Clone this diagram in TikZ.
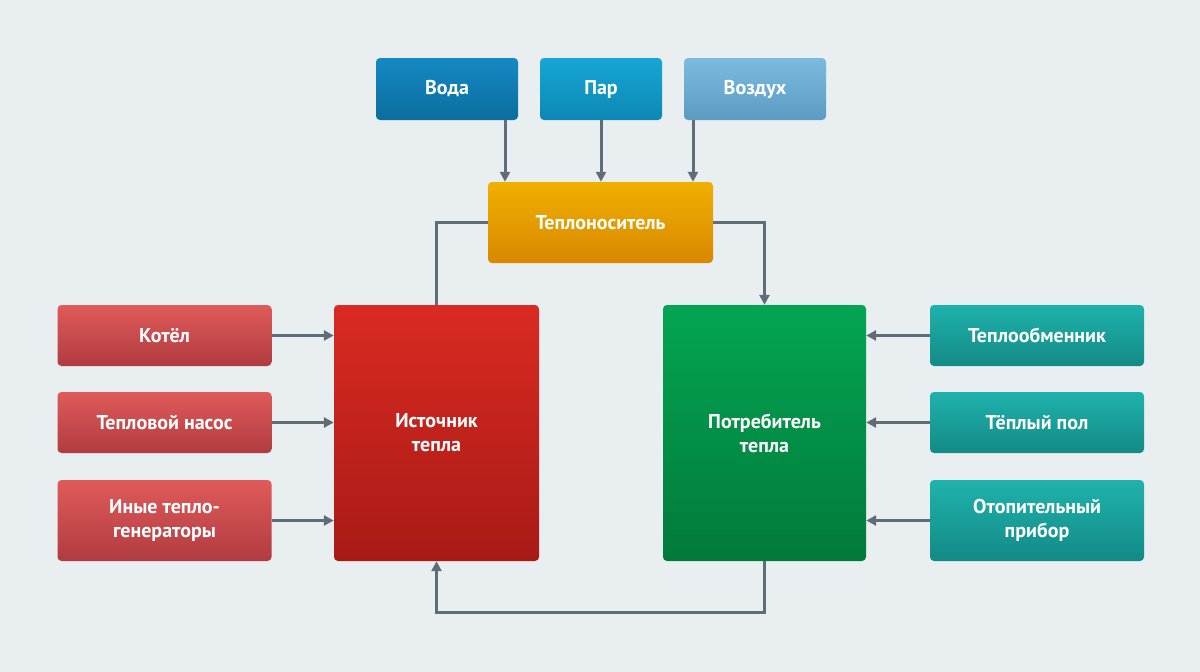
\documentclass[tikz,border=0pt]{standalone}
\usepackage{fontspec}
\setmainfont{PT Sans}
\usetikzlibrary{positioning,arrows.meta}
\definecolor{bg}{HTML}{E9EEF1}
\definecolor{line}{HTML}{5E6E78}
\definecolor{waterT}{HTML}{1588C4}\definecolor{waterB}{HTML}{0A6E9E}
\definecolor{steamT}{HTML}{16A6D6}\definecolor{steamB}{HTML}{0C88B4}
\definecolor{airT}{HTML}{7CBBE0}\definecolor{airB}{HTML}{5C9CC2}
\definecolor{carT}{HTML}{F0B000}\definecolor{carB}{HTML}{D88800}
\definecolor{srcT}{HTML}{DA2A22}\definecolor{srcB}{HTML}{A81A16}
\definecolor{conT}{HTML}{03A552}\definecolor{conB}{HTML}{027A3A}
\definecolor{genT}{HTML}{E05A5A}\definecolor{genB}{HTML}{B03C40}
\definecolor{useT}{HTML}{1FB2AC}\definecolor{useB}{HTML}{138A86}
\begin{document}
\begin{tikzpicture}[
    x=1pt, y=-1pt,
    box/.style={
        rounded corners=4pt,
        text=white,
        font=\fontsize{20}{24}\selectfont\bfseries,
        align=center,
        inner sep=0pt
    },
    small box/.style={box, minimum width=214pt, minimum height=61pt},
    top box/.style={box, minimum height=62pt},
    arrow/.style={-{Triangle[length=10pt,width=10pt]}, line width=3pt, line},
    link/.style={line width=3pt, line}
]
\fill[bg] (0,0) rectangle (1200,672);

\node[top box, minimum width=142pt, top color=waterT, bottom color=waterB] (water) at (447,89) {Вода};
\node[top box, minimum width=122pt, top color=steamT, bottom color=steamB] (steam) at (601,89) {Пар};
\node[top box, minimum width=142pt, top color=airT, bottom color=airB] (air) at (755,89) {Воздух};

\node[box, minimum width=225pt, minimum height=81pt, top color=carT, bottom color=carB] (carrier) at (600.5,222.5) {Теплоноситель};

\node[box, minimum width=205pt, minimum height=256pt, top color=srcT, bottom color=srcB] (source) at (436.5,433) {Источник\\тепла};
\node[box, minimum width=203pt, minimum height=256pt, top color=conT, bottom color=conB] (consumer) at (764.5,433) {Потребитель\\тепла};

\node[small box, top color=genT, bottom color=genB] (boiler) at (164.5,335.5) {Котёл};
\node[small box, top color=genT, bottom color=genB] (pump) at (164.5,422.5) {Тепловой насос};
\node[small box, minimum height=81pt, top color=genT, bottom color=genB] (other) at (164.5,520.5) {Иные тепло-\\генераторы};

\node[small box, top color=useT, bottom color=useB] (exchanger) at (1037,335.5) {Теплообменник};
\node[small box, top color=useT, bottom color=useB] (floor) at (1037,422.5) {Тёплый пол};
\node[small box, minimum height=81pt, top color=useT, bottom color=useB] (radiator) at (1037,520.5) {Отопительный\\прибор};

\draw[arrow] (water.south -| 505,0) -- (carrier.north -| 505,0);
\draw[arrow] (steam.south) -- (carrier.north -| steam.south);
\draw[arrow] (air.south -| 693,0) -- (carrier.north -| 693,0);

\draw[link] (carrier.west) -| (source.north);
\draw[arrow] (carrier.east) -| (consumer.north);
\draw[arrow] (consumer.south) -- ++(0,51) -| (source.south);

\draw[arrow] (boiler) -- (boiler -| source.west);
\draw[arrow] (pump) -- (pump -| source.west);
\draw[arrow] (other) -- (other -| source.west);
\draw[arrow] (exchanger) -- (exchanger -| consumer.east);
\draw[arrow] (floor) -- (floor -| consumer.east);
\draw[arrow] (radiator) -- (radiator -| consumer.east);
\end{tikzpicture}
\end{document}
